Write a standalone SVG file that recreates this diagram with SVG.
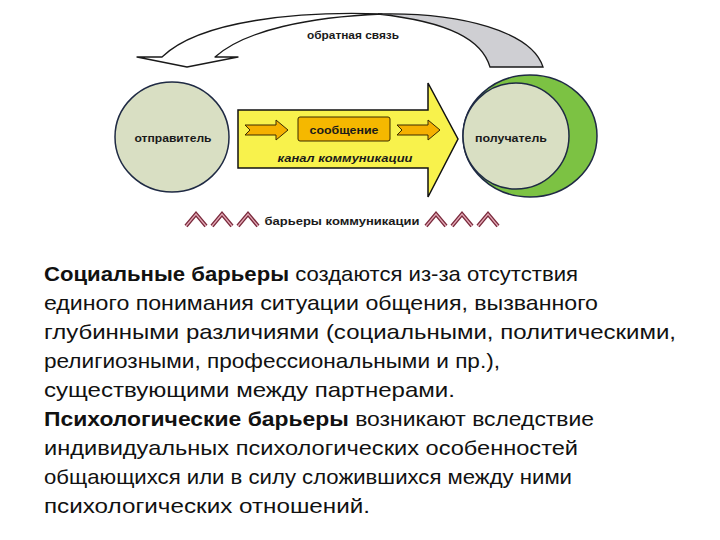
<svg xmlns="http://www.w3.org/2000/svg" width="720" height="540" viewBox="0 0 720 540">
<style>
.lbl{font-family:"Liberation Sans",Arial,sans-serif;font-weight:bold;font-size:11.5px;fill:#1a1a1a;text-anchor:middle}
.para{font-family:"Liberation Sans",Arial,sans-serif;font-size:21px;fill:#111}
.b{font-weight:bold}
.circ{fill:#d9dfc3;stroke:#1f2a44;stroke-width:1.5}
.chev{fill:none;stroke:#7a2a3c;stroke-width:4;stroke-linejoin:miter}
.chev2{fill:none;stroke:#e3a9b6;stroke-width:1.2}
.small{fill:#f5b000;stroke:#3a2a00;stroke-width:1}
</style>
<rect width="720" height="540" fill="#fff"/>
<g id="feedback">
<path d="M137,57 L187,67 L238,57 L215,57 C245,30 310,17 382,14 C300,11 200,20 162,57 Z" fill="#fff" stroke="#1a1a1a" stroke-width="1.3" stroke-linejoin="round"/>
<path d="M378,14 C462,12 532,32 543,67 L490,67 C482,40 450,22 378,14 Z" fill="#cfcfd3" stroke="#1a1a1a" stroke-width="1.3"/>
<text class="lbl" x="353" y="39" textLength="92" lengthAdjust="spacingAndGlyphs" fill="#333">обратная связь</text>
</g>
<g id="channel">
<path d="M238,110 L428,110 L428,83 L458,139 L428,197 L428,168 L238,168 Z" fill="#f8f24c" stroke="#111" stroke-width="1.5"/>
<path class="small" d="M245,125 L276,125 L276,120 L288,130 L276,140 L276,135 L245,135 L250,130 Z"/>
<path class="small" d="M397,125 L428,125 L428,120 L440,130 L428,140 L428,135 L397,135 L402,130 Z"/>
<text class="lbl" x="345" y="162" font-style="italic" textLength="135" lengthAdjust="spacingAndGlyphs">канал коммуникации</text>
</g>
<g id="message">
<rect x="298" y="117" width="92" height="24" rx="2" fill="#f5b800" stroke="#3a2a00" stroke-width="1"/>
<text class="lbl" x="344" y="134" textLength="69" lengthAdjust="spacingAndGlyphs">сообщение</text>
</g>
<g id="sender">
<ellipse class="circ" cx="172" cy="137" rx="57" ry="55"/>
<text class="lbl" x="173" y="142" textLength="77" lengthAdjust="spacingAndGlyphs">отправитель</text>
</g>
<g id="receiver">
<ellipse cx="530" cy="136" rx="67" ry="61" fill="#7cc243" stroke="#1f2a44" stroke-width="1.5"/>
<ellipse class="circ" cx="516" cy="136" rx="53" ry="53"/>
<text class="lbl" x="511" y="142" textLength="72" lengthAdjust="spacingAndGlyphs">получатель</text>
</g>
<g id="barriers">
<g>
<polyline class="chev" points="186,226 196,214 206,226"/>
<polyline class="chev" points="212,226 222,214 232,226"/>
<polyline class="chev" points="238,226 248,214 258,226"/>
<polyline class="chev2" points="186,226 196,214 206,226"/>
<polyline class="chev2" points="212,226 222,214 232,226"/>
<polyline class="chev2" points="238,226 248,214 258,226"/>
<polyline class="chev" points="426,226 436,214 446,226"/>
<polyline class="chev" points="452,226 462,214 472,226"/>
<polyline class="chev" points="478,226 488,214 498,226"/>
<polyline class="chev2" points="426,226 436,214 446,226"/>
<polyline class="chev2" points="452,226 462,214 472,226"/>
<polyline class="chev2" points="478,226 488,214 498,226"/>
</g>
<text class="lbl" x="342" y="225" textLength="155" lengthAdjust="spacingAndGlyphs" fill="#333">барьеры коммуникации</text>
</g>
<g id="text">
<text class="para" x="44" y="281" textLength="534" lengthAdjust="spacingAndGlyphs"><tspan class="b">Социальные барьеры</tspan> создаются из-за отсутствия</text>
<text class="para" x="44" y="310" textLength="554" lengthAdjust="spacingAndGlyphs">единого понимания ситуации общения, вызванного</text>
<text class="para" x="44" y="339" textLength="632" lengthAdjust="spacingAndGlyphs">глубинными различиями (социальными, политическими,</text>
<text class="para" x="44" y="368" textLength="456" lengthAdjust="spacingAndGlyphs">религиозными, профессиональными и пр.),</text>
<text class="para" x="44" y="397" textLength="411" lengthAdjust="spacingAndGlyphs">существующими между партнерами.</text>
<text class="para" x="44" y="426" textLength="550" lengthAdjust="spacingAndGlyphs"><tspan class="b">Психологические барьеры</tspan> возникают вследствие</text>
<text class="para" x="44" y="455" textLength="534" lengthAdjust="spacingAndGlyphs">индивидуальных психологических особенностей</text>
<text class="para" x="44" y="484" textLength="528" lengthAdjust="spacingAndGlyphs">общающихся или в силу сложившихся между ними</text>
<text class="para" x="44" y="513" textLength="326" lengthAdjust="spacingAndGlyphs">психологических отношений.</text>
</g>
</svg>
